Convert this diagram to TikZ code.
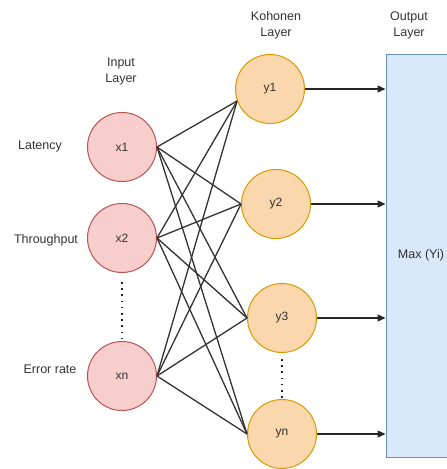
\documentclass[tikz,border=0pt]{standalone}
\usepackage{fontspec}
\setmainfont{Liberation Sans}
\usetikzlibrary{arrows.meta}
\definecolor{redfill}{HTML}{F8CECC}
\definecolor{redline}{HTML}{B85450}
\definecolor{orfill}{HTML}{FAD7AC}
\definecolor{orline}{HTML}{D79B00}
\definecolor{bluefill}{HTML}{DAE8FC}
\definecolor{blueline}{HTML}{6C8EBF}
\definecolor{txt}{HTML}{333333}
\begin{document}
\begin{tikzpicture}[x=1pt,y=-1pt,
  inneuron/.style={circle,draw=redline,fill=redfill,line width=1pt,minimum size=69pt,inner sep=0pt,text=txt,font=\fontsize{12}{14}\selectfont},
  koneuron/.style={circle,draw=orline,fill=orfill,line width=1pt,minimum size=69pt,inner sep=0pt,text=txt,font=\fontsize{12}{14}\selectfont},
  lbl/.style={text=txt,font=\fontsize{12.5}{16}\selectfont,align=center,inner sep=0pt},
  conn/.style={draw=black!80,line width=1.3pt},
  outarrow/.style={draw=black!85,line width=1.2pt,-{Triangle[length=8pt,width=7pt]}},
  dots/.style={draw=black!85,line width=1.8pt,dash pattern=on 1.6pt off 4.6pt}
]
\useasboundingbox (0,0) rectangle (447,469);
\begin{scope}
\clip (0,0) rectangle (447,469);
\node[draw=blueline,fill=bluefill,line width=1pt,minimum width=70pt,minimum height=403pt,inner sep=0pt,text=txt,font=\fontsize{12.5}{15}\selectfont] (box) at (421,255.5) {Max (Yi)};
\end{scope}

\node[inneuron] (x1) at (122,147) {x1};
\node[inneuron] (x2) at (122,238) {x2};
\node[inneuron] (xn) at (122,376) {xn};

\node[koneuron] (y1) at (270,89) {y1};
\node[koneuron] (y2) at (276,204) {y2};
\node[koneuron] (y3) at (282,318) {y3};
\node[koneuron] (yn) at (282,434) {yn};

\node[lbl] (lin) at (121,71.5) {Input\\Layer};
\node[lbl] (lko) at (276,25) {Kohonen\\Layer};
\node[lbl] (lout) at (409,25) {Output\\Layer};
\node[lbl] (llat) at (40,146) {Latency};
\node[lbl] (lthr) at (46,240) {Throughput};
\node[lbl] (lerr) at (50,369) {Error rate};

\coordinate (e1) at (y1.200);
\coordinate (e2) at (y2.west);
\coordinate (e3) at (y3.west);
\coordinate (e4) at (yn.west);
\foreach \s in {x1,x2,xn}{
  \foreach \t in {e1,e2,e3,e4}{
    \draw[conn] (\s.east) -- (\t);
  }
}

\draw[dots] (x2.south) ++(0,9) -- ([yshift=-3pt]xn.north);
\draw[dots] (y3.south) ++(0,6) -- ([yshift=-2pt]yn.north);

\foreach \t in {y1,y2,y3,yn}{
  \draw[outarrow] (\t.east) -- (\t.east -| box.west);
}
\end{tikzpicture}
\end{document}
